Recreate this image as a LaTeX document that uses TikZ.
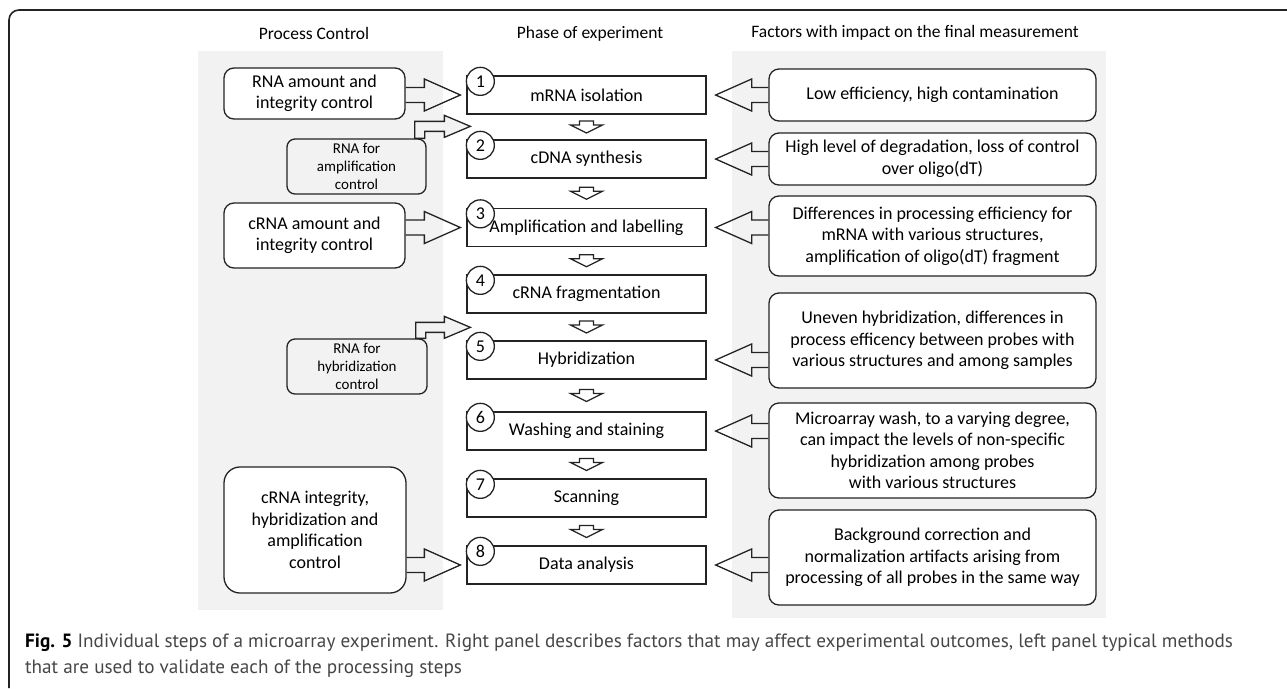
\documentclass[tikz,border=0pt]{standalone}
\usepackage{fontspec}
\setmainfont{Carlito}
\newfontfamily\capfont{PT Sans}
\usepackage{xcolor}
\definecolor{panelgray}{RGB}{242, 242, 242}
\definecolor{linegray}{RGB}{35, 35, 35}
\definecolor{capgray}{RGB}{70, 70, 70}
\usetikzlibrary{calc}

% block arrow to the right: tail anchor, target anchor
\newcommand{\rblock}[2]{%
  \draw[blockarrow] let \p1=(#1), \p2=(#2) in
    (\x1,\y2+7.5pt) -- (\x2-42pt,\y2+7.5pt) -- (\x2-42pt,\y2+16pt) -- (\x2-6pt,\y2)
    -- (\x2-42pt,\y2-16pt) -- (\x2-42pt,\y2-7.5pt) -- (\x1,\y2-7.5pt);}
% block arrow to the left: tail anchor, target anchor
\newcommand{\lblock}[2]{%
  \draw[blockarrow] let \p1=(#1), \p2=(#2) in
    (\x1,\y2+7.5pt) -- (\x2+45pt,\y2+7.5pt) -- (\x2+45pt,\y2+16pt) -- (\x2+9pt,\y2)
    -- (\x2+45pt,\y2-16pt) -- (\x2+45pt,\y2-7.5pt) -- (\x1,\y2-7.5pt);}
% small block arrow downwards, centred between two anchors
\newcommand{\dblock}[2]{%
  \coordinate (dmid) at ($(#1)!.5!(#2)$);
  \draw[blockarrow] ([shift={(-7pt,6pt)}]dmid) -- ++(14pt,0pt) -- ++(0pt,-4pt) -- ++(9pt,0pt)
    -- ++(-16pt,-8pt) -- ++(-16pt,8pt) -- ++(9pt,0pt) -- cycle;}
% bent block arrow: foot on a box top, tip
\newcommand{\bentblock}[2]{%
  \draw[blockarrow, fill=panelgray] let \p1=(#1), \p2=(#2) in
    (\x1-5pt,\y1) -- (\x1-5pt,\y2+5pt) -- (\x2-26pt,\y2+5pt) -- (\x2-26pt,\y2+11pt) -- (\x2,\y2)
    -- (\x2-26pt,\y2-11pt) -- (\x2-26pt,\y2-5pt) -- (\x1+5pt,\y2-5pt) -- (\x1+5pt,\y1) -- cycle;}

\begin{document}
\begin{tikzpicture}[x=1pt, y=-1pt,
    boxfont/.style={font=\fontsize{18}{21.5}\selectfont},
    header/.style={font=\fontsize{17.5}{21}\selectfont},
    phasebox/.style={draw=linegray, line width=1.3pt, fill=white, boxfont,
        minimum width=239pt, minimum height=38pt, inner sep=0pt},
    numcircle/.style={circle, draw=linegray, line width=1.3pt, fill=white, boxfont,
        minimum size=28pt, inner sep=0pt},
    factorbox/.style={draw=linegray, line width=1.3pt, fill=white, rounded corners=10pt,
        boxfont, align=center, minimum width=327pt, inner sep=0pt},
    controlbox/.style={draw=linegray, line width=1.3pt, fill=white, rounded corners=10pt,
        boxfont, align=center, minimum width=181pt, inner sep=0pt},
    rnabox/.style={draw=linegray, line width=1.3pt, fill=panelgray, rounded corners=8pt,
        font=\fontsize{15}{18}\selectfont, align=center, minimum width=139pt,
        minimum height=55pt, inner sep=0pt},
    blockarrow/.style={draw=linegray, line width=1.3pt, line join=miter}]

\useasboundingbox (0,0) rectangle (1287,688);

% === Frame and panels ===
\draw[linegray, line width=1.6pt, rounded corners=10pt] (9,688) -- (9,10) -- (1287,10);
\fill[panelgray] (198,51) rectangle (443,610);
\fill[panelgray] (732,51) rectangle (1106,618);

% === Column headers ===
\node[header] (hcontrol) at (314,33) {Process Control};
\node[header] (hphase) at (590,34) {Phase of experiment};
\node[header] (hfactors) at (915,33) {Factors with impact on the final measurement};

% === Phases of the experiment ===
\foreach \n/\y/\txt in {1/95/mRNA isolation, 2/159/cDNA synthesis,
    3/227.5/Amplification and labelling, 4/294/cRNA fragmentation,
    5/360/Hybridization, 6/431/Washing and staining, 7/498/Scanning,
    8/565/Data analysis} {
  \node[phasebox] (m\n) at (586.5,\y) {\txt};
  \node[numcircle] (c\n) at ([shift={(14pt,-6pt)}]m\n.north west) {\n};
}
\foreach \a/\b in {1/2, 2/3, 3/4, 4/5, 5/6, 6/7, 7/8} {
  \dblock{m\a.south}{m\b.north}
}

% === Factors (right panel) ===
\node[factorbox, minimum height=52pt] (f1) at (932.5,95)
  {Low efficiency, high contamination};
\node[factorbox, minimum height=52pt] (f2) at (932.5,159)
  {High level of degradation, loss of control\\over oligo(dT)};
\node[factorbox, minimum height=80pt] (f3) at (932.5,236)
  {Differences in processing efficiency for\\mRNA with various structures,\\amplification of oligo(dT) fragment};
\node[factorbox, minimum height=95pt] (f4) at (932.5,340.5)
  {Uneven hybridization, differences in\\process efficency between probes with\\various structures and among samples};
\node[factorbox, minimum height=95pt] (f5) at (932.5,450.5)
  {Microarray wash, to a varying degree,\\can impact the levels of non-specific\\hybridization among probes\\with various structures};
\node[factorbox, minimum height=95pt] (f6) at (932.5,557.5)
  {Background correction and\\normalization artifacts arising from\\processing of all probes in the same way};

\lblock{f1.west}{m1.east}
\lblock{f2.west}{m2.east}
\lblock{f3.west}{m3.east}
\lblock{f4.west}{m5.east}
\lblock{f5.west}{m6.east}
\lblock{f6.west}{m8.east}

% === Process control (left panel) ===
\node[controlbox, minimum height=51pt] (rnaamt) at (314.5,93.5)
  {RNA amount and\\integrity control};
\node[rnabox] (rnaamp) at (356.5,166.5) {RNA for\\amplification\\control};
\node[controlbox, minimum height=65pt] (crnaamt) at (314.5,235.5)
  {cRNA amount and\\integrity control};
\node[rnabox, minimum width=140pt] (rnahyb) at (357,366.5) {RNA for\\hybridization\\control};
\node[controlbox, minimum width=182pt, minimum height=126pt, rounded corners=16pt] (crnaint)
  at (315,530) {cRNA integrity,\\hybridization and\\amplification\\control};

\rblock{rnaamt.east}{m1.west}
\rblock{crnaamt.east}{m3.west}
\rblock{crnaint.east}{m8.west}

\coordinate (tipamp) at ([shift={(4pt,13pt)}]m2.north west);
\coordinate (tiphyb) at ([shift={(4pt,13pt)}]m5.north west);
\bentblock{[xshift=-7pt]rnaamp.north east}{tipamp}
\bentblock{[xshift=-7pt]rnahyb.north east}{tiphyb}

% === Caption ===
\node[anchor=base west, inner sep=0pt, text=capgray, font=\capfont\fontsize{19.2}{24}\selectfont]
  (capa) at (25,647) {\textcolor{black}{\textbf{Fig. 5}} Individual steps of a microarray experiment. Right panel describes factors that may affect experimental outcomes, left panel typical methods};
\node[anchor=base west, inner sep=0pt, text=capgray, font=\capfont\fontsize{19.2}{24}\selectfont]
  (capb) at (25,673) {that are used to validate each of the processing steps};

\end{tikzpicture}
\end{document}
